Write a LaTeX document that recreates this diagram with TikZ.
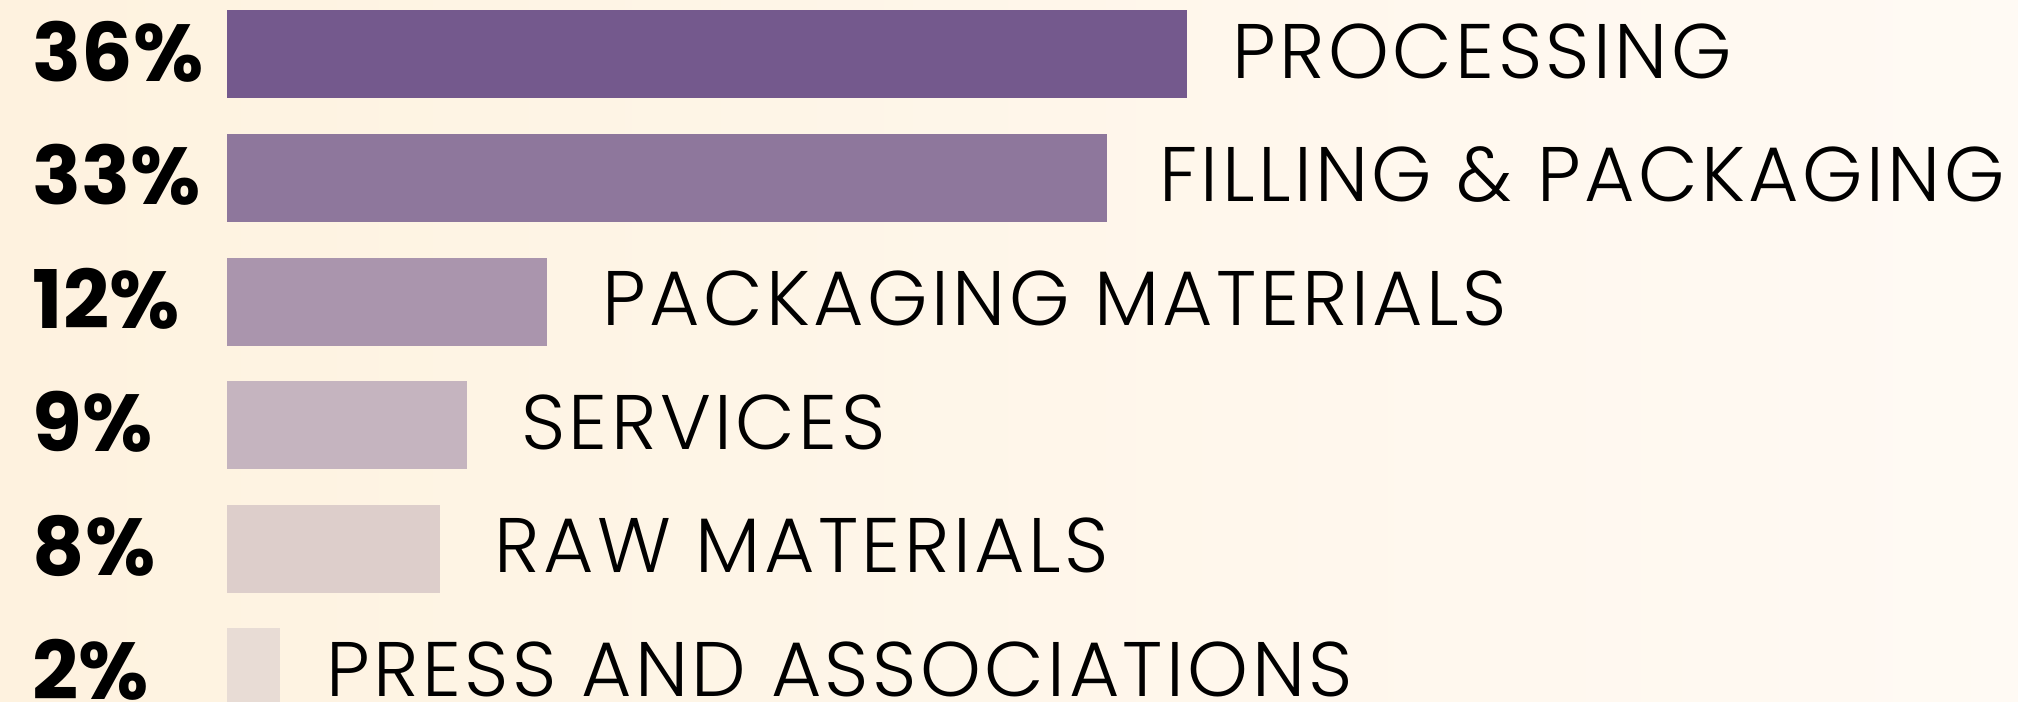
\documentclass[tikz,border=0pt]{standalone}
\usepackage{fontspec}
\setmainfont{Poppins}
\newfontfamily\catfont{Poppins Light}[LetterSpace=4.5]
\usetikzlibrary{positioning}
\definecolor{bgleft}{HTML}{FEF2DF}
\definecolor{bgright}{HTML}{FFFAF4}
\definecolor{barA}{HTML}{74598D}
\definecolor{barB}{HTML}{8E779C}
\definecolor{barC}{HTML}{AA95AD}
\definecolor{barD}{HTML}{C5B4BF}
\definecolor{barE}{HTML}{DDCECB}
\definecolor{barF}{HTML}{E8DCD5}
\tikzstyle{bar} = [rectangle, minimum height=0.88cm, inner sep=0pt, outer sep=0pt]
\tikzstyle{pct} = [font=\fontsize{23}{23}\selectfont\bfseries, inner sep=0pt, yshift=0.03cm]
\tikzstyle{category} = [font=\catfont\fontsize{22}{22}\selectfont, inner sep=0pt, anchor=west, yshift=0.03cm]

\begin{document}
\begin{tikzpicture}
	\shade[left color=bgleft, right color=bgright] (0,0) rectangle (20.18,7.01);
	\useasboundingbox (0,0) rectangle (20.18,7.01);
	\clip (0,0) rectangle (20.18,7.01);

	\node (proc) [bar, fill=barA, minimum width=9.6cm, anchor=north west] at (2.265,6.907) {};
	\node (fill) [bar, fill=barB, minimum width=8.8cm, below=0.356cm of proc.south west, anchor=north west] {};
	\node (packmat) [bar, fill=barC, minimum width=3.2cm, below=0.356cm of fill.south west, anchor=north west] {};
	\node (serv) [bar, fill=barD, minimum width=2.4cm, below=0.356cm of packmat.south west, anchor=north west] {};
	\node (raw) [bar, fill=barE, minimum width=2.133cm, below=0.356cm of serv.south west, anchor=north west] {};
	\node (press) [bar, fill=barF, minimum width=0.533cm, below=0.356cm of raw.south west, anchor=north west] {};

	\node (procpct) [pct, left=1.945cm of proc.west, anchor=west] {36\%};
	\node (fillpct) [pct, left=1.945cm of fill.west, anchor=west] {33\%};
	\node (packmatpct) [pct, left=1.945cm of packmat.west, anchor=west] {12\%};
	\node (servpct) [pct, left=1.945cm of serv.west, anchor=west] {9\%};
	\node (rawpct) [pct, left=1.945cm of raw.west, anchor=west] {8\%};
	\node (presspct) [pct, left=1.945cm of press.west, anchor=west] {2\%};

	\node (proctext) [category, right=0.45cm of proc] {PROCESSING};
	\node (filltext) [category, right=0.52cm of fill] {FILLING \& PACKAGING};
	\node (packmattext) [category, right=0.55cm of packmat] {PACKAGING MATERIALS};
	\node (servtext) [category, right=0.54cm of serv] {SERVICES};
	\node (rawtext) [category, right=0.54cm of raw] {RAW MATERIALS};
	\node (presstext) [category, right=0.46cm of press] {PRESS AND ASSOCIATIONS};
\end{tikzpicture}
\end{document}
